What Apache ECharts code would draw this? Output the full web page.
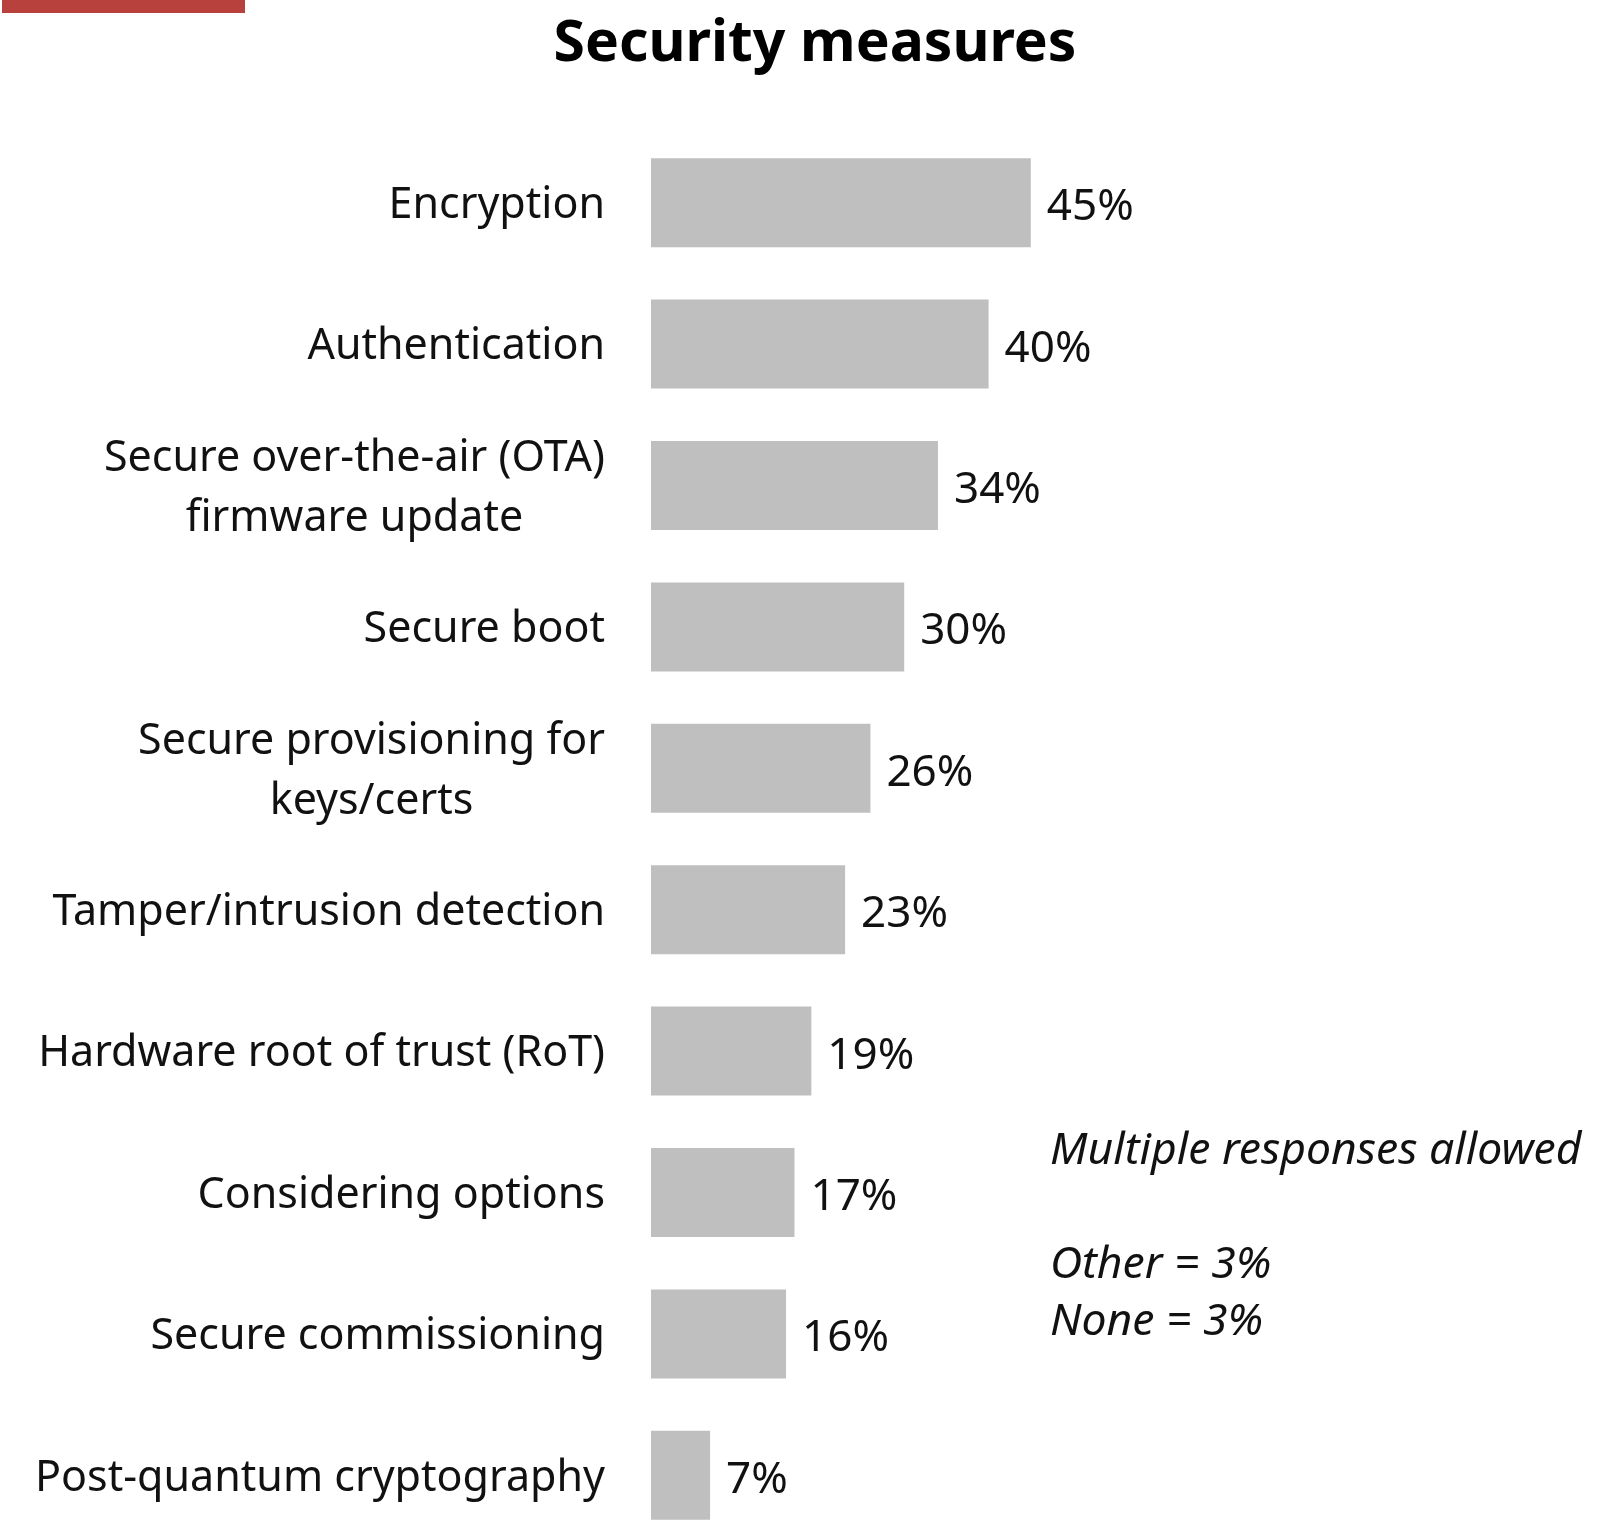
<!DOCTYPE html>
<html>
<head>
<meta charset="utf-8">
<script src="https://cdn.jsdelivr.net/npm/echarts@6/dist/echarts.min.js"></script>
<style>
  html, body { margin: 0; padding: 0; background: #fff; height: 1529px; overflow: hidden; }
  /* the last band runs a little past the bottom edge of the page */
  #chart { width: 1598px; height: 1560px; }
</style>
</head>
<body>
<div id="chart"></div>
<script>
// Survey results: share of respondents using each security measure (%)
const categories = [
  'Encryption',
  'Authentication',
  'Secure over-the-air (OTA)\nfirmware update',
  'Secure boot',
  'Secure provisioning for\nkeys/certs',
  'Tamper/intrusion detection',
  'Hardware root of trust (RoT)',
  'Considering options',
  'Secure commissioning',
  'Post-quantum cryptography'
];
const shares = [45, 40, 34, 30, 26, 23, 19, 17, 16, 7];
const noteLines = ['Multiple responses allowed', '', 'Other = 3%', 'None = 3%'];

const FONT = '"Noto Sans", "Open Sans", sans-serif';

const chart = echarts.init(document.getElementById('chart'), null, { renderer: 'canvas' });

chart.setOption({
  backgroundColor: '#ffffff',
  animation: false,
  title: {
    text: 'Security measures',
    left: 810,
    textAlign: 'center',
    top: 11,
    textStyle: { fontFamily: FONT, fontSize: 57, fontWeight: 'bold', color: '#000' }
  },
  grid: { left: 651, top: 132, width: 422, height: 1414, containLabel: false },
  xAxis: {
    type: 'value', min: 0, max: 50,
    show: false
  },
  yAxis: {
    type: 'category',
    data: categories,
    inverse: true,
    axisLine: { show: false },
    axisTick: { show: false },
    axisLabel: {
      margin: 46,
      align: 'right',
      padding: [6, 0, 0, 0],
      // block sits flush right; wrapped lines are centred within it
      formatter: (v) => v.split('\n').map((s) => '{c|' + s + '}').join('\n'),
      rich: {
        c: {
          align: 'center',
          fontFamily: FONT,
          fontSize: 43,
          lineHeight: 60,
          color: '#111'
        }
      }
    }
  },
  series: [{
    type: 'bar',
    data: shares,
    barWidth: 89,
    itemStyle: { color: '#bfbfbf' },
    label: {
      show: true,
      position: 'right',
      distance: 16,
      offset: [0, 5],
      formatter: '{c}%',
      fontFamily: FONT,
      fontSize: 44,
      color: '#111'
    }
  }],
  graphic: [
    { type: 'rect', left: 2, top: 0, shape: { width: 243, height: 13 }, style: { fill: '#b8413d' } },
    {
      type: 'text', left: 1050, top: 1123,
      style: {
        text: noteLines.join('\n'),
        fontFamily: FONT, fontSize: 44.5, fontStyle: 'italic', lineHeight: 57,
        fill: '#111'
      }
    }
  ]
});
</script>
</body>
</html>
